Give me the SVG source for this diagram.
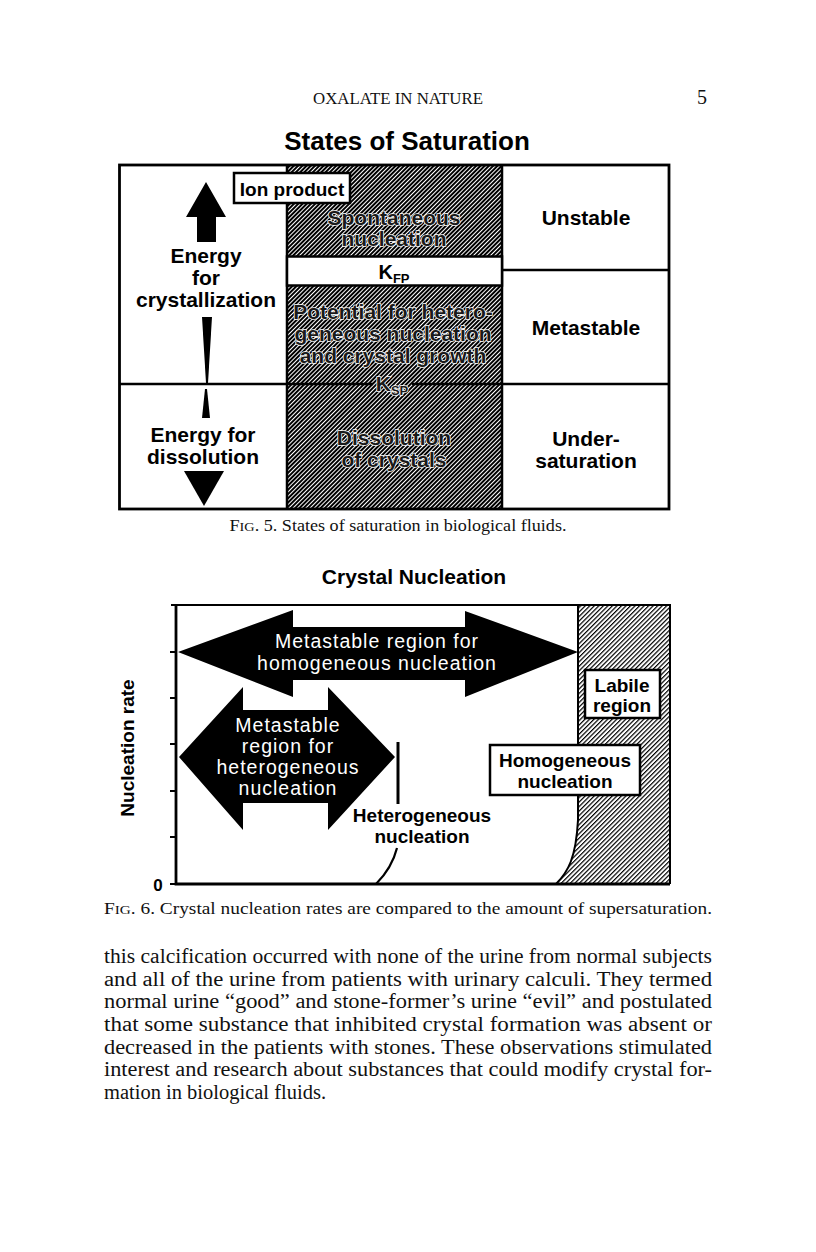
<svg xmlns="http://www.w3.org/2000/svg" width="816" height="1252" viewBox="0 0 816 1252">
<defs>
<pattern id="hatchDark" patternUnits="userSpaceOnUse" width="3" height="10" patternTransform="rotate(45)">
<rect width="3" height="10" fill="#fff"/>
<line x1="1" y1="0" x2="1" y2="10" stroke="#000" stroke-width="2"/>
</pattern>
<pattern id="hatchLight" patternUnits="userSpaceOnUse" width="3.2" height="10" patternTransform="rotate(45)">
<rect width="3.2" height="10" fill="#fff"/>
<line x1="0.6" y1="0" x2="0.6" y2="10" stroke="#000" stroke-width="1.2"/>
</pattern>
<style>
.serif{font-family:"Liberation Serif","DejaVu Serif",serif;fill:#111}
.b{font-family:"Liberation Sans",Arial,sans-serif;font-weight:bold;fill:#000}
.ht{font-family:"Liberation Sans",Arial,sans-serif;font-weight:bold;font-size:21px;fill:#1a1a1a;stroke:#fff;stroke-width:1.5px;paint-order:stroke fill;text-anchor:middle}
.w{font-family:"Liberation Sans",Arial,sans-serif;font-size:19.5px;fill:#fff;letter-spacing:1px;text-anchor:middle}
.ln{stroke:#000;stroke-width:2.5;fill:none}
.box{fill:#fff;stroke:#000;stroke-width:2.5}
.m{text-anchor:middle}
</style>
</defs>
<rect width="816" height="1252" fill="#fff"/>

<g id="header">
<text class="serif" x="398" y="104" font-size="16" text-anchor="middle" textLength="170" lengthAdjust="spacingAndGlyphs">OXALATE IN NATURE</text>
<text class="serif" x="702" y="104" font-size="20" text-anchor="middle">5</text>
</g>

<g id="fig5">
<text class="b m" x="407" y="150" font-size="26">States of Saturation</text>
<rect id="middle-column" x="287" y="165" width="215" height="344" fill="url(#hatchDark)"/>
<rect x="119.5" y="165" width="549.5" height="344" fill="none" stroke="#000" stroke-width="2.8"/>
<line class="ln" x1="287" y1="165" x2="287" y2="509"/>
<line class="ln" x1="502" y1="165" x2="502" y2="509"/>
<line class="ln" x1="502" y1="270" x2="669" y2="270"/>
<line class="ln" x1="119" y1="384" x2="287" y2="384"/>
<line class="ln" x1="502" y1="384" x2="669" y2="384"/>
<line class="ln" x1="287" y1="384" x2="373" y2="384"/>
<line class="ln" x1="412" y1="384" x2="502" y2="384"/>

<g id="ion-product">
<rect class="box" x="234" y="173" width="116" height="30"/>
<text class="b m" x="292" y="196" font-size="19">Ion product</text>
</g>

<g id="energy-crystallization">
<polygon points="206,182 226,217 216,217 216,242 197,242 197,217 186,217" fill="#000"/>
<text class="b m" x="206" y="263" font-size="21">Energy</text>
<text class="b m" x="206" y="285" font-size="21">for</text>
<text class="b m" x="206" y="307" font-size="21">crystallization</text>
<polygon points="202,317 212,317 208,383 206,383" fill="#000"/>
</g>

<g id="energy-dissolution">
<polygon points="205,389 207,389 210,418 202,418" fill="#000"/>
<text class="b m" x="203" y="442" font-size="21">Energy for</text>
<text class="b m" x="203" y="464" font-size="21">dissolution</text>
<polygon points="184,471 224,471 204,506" fill="#000"/>
</g>

<g id="spontaneous">
<text class="ht" x="394" y="225">Spontaneous</text>
<text class="ht" x="394" y="246">nucleation</text>
</g>
<g id="kfp">
<rect x="287" y="256.5" width="215" height="29" fill="#fff" stroke="#000" stroke-width="2.5"/>
<text class="b m" x="394" y="279" font-size="20">K<tspan font-size="13" dy="4">FP</tspan></text>
</g>
<g id="potential">
<text class="ht" x="393" y="319">Potential for hetero-</text>
<text class="ht" x="393" y="341">geneous nucleation</text>
<text class="ht" x="393" y="363">and crystal growth</text>
</g>
<g id="ksp">
<text class="ht" x="392" y="391" font-size="20">K<tspan font-size="13" dy="4">SP</tspan></text>
</g>
<g id="dissolution">
<text class="ht" x="394" y="445">Dissolution</text>
<text class="ht" x="394" y="467">of crystals</text>
</g>

<g id="unstable"><text class="b m" x="586" y="225" font-size="21">Unstable</text></g>
<g id="metastable"><text class="b m" x="586" y="335" font-size="21">Metastable</text></g>
<g id="undersaturation">
<text class="b m" x="586" y="446" font-size="21">Under-</text>
<text class="b m" x="586" y="468" font-size="21">saturation</text>
</g>
<text class="serif" x="398" y="531" font-size="16.5" text-anchor="middle" textLength="337" lengthAdjust="spacingAndGlyphs">F<tspan font-size="13">IG</tspan>. 5. States of saturation in biological fluids.</text>
</g>

<g id="fig6">
<text class="b m" x="414" y="584" font-size="21">Crystal Nucleation</text>

<g id="labile-area">
<path d="M556,884 C568,872 576,858 578,820 L578,605 L670,605 L670,884 Z" fill="url(#hatchLight)"/>
<path d="M556,884 C568,872 576,858 578,820 L578,605" fill="none" stroke="#000" stroke-width="2"/>
</g>

<g id="axes">
<path d="M171,605 H670 V884" fill="none" stroke="#000" stroke-width="2"/>
<path d="M176,605 V884 H670" fill="none" stroke="#000" stroke-width="2.8"/>
<path d="M170,652 H176 M170,698 H176 M170,744 H176 M170,791 H176 M170,837 H176 M170,884 H176" stroke="#000" stroke-width="2"/>
<text class="b" x="158" y="891" font-size="17" text-anchor="middle">0</text>
<text class="b" x="0" y="0" font-size="19" text-anchor="middle" transform="translate(134,748) rotate(-90)">Nucleation rate</text>
</g>

<g id="homogeneous-metastable">
<polygon points="178,652 293,610 293,627 465,627 465,611 578,652 465,697 465,680 293,680 293,697" fill="#000"/>
<text class="w" x="377" y="648">Metastable region for</text>
<text class="w" x="377" y="670">homogeneous nucleation</text>
</g>

<g id="heterogeneous-metastable">
<polygon points="179,757 243,687 243,710 328,710 328,687 395,757 328,830 328,803 243,803 243,830" fill="#000"/>
<text class="w" x="288" y="732">Metastable</text>
<text class="w" x="288" y="753">region for</text>
<text class="w" x="288" y="774">heterogeneous</text>
<text class="w" x="288" y="795">nucleation</text>
</g>

<g id="connectors">
<line x1="398" y1="742" x2="398" y2="804" stroke="#000" stroke-width="3"/>
<path d="M376,884 Q392,868 397,848" fill="none" stroke="#000" stroke-width="2.2"/>
</g>

<g id="heterogeneous-label">
<text class="b m" x="422" y="822" font-size="19">Heterogeneous</text>
<text class="b m" x="422" y="843" font-size="19">nucleation</text>
</g>

<g id="labile-region">
<rect class="box" x="585" y="670" width="75" height="48"/>
<text class="b m" x="622" y="692" font-size="19">Labile</text>
<text class="b m" x="622" y="712" font-size="19">region</text>
</g>

<g id="homogeneous-nucleation">
<rect class="box" x="490" y="745" width="150" height="50"/>
<text class="b m" x="565" y="767" font-size="19">Homogeneous</text>
<text class="b m" x="565" y="788" font-size="19">nucleation</text>
</g>

<text class="serif" x="104" y="914" font-size="16.5" textLength="608" lengthAdjust="spacingAndGlyphs">F<tspan font-size="13">IG</tspan>. 6. Crystal nucleation rates are compared to the amount of supersaturation.</text>
</g>

<g id="body-text" class="serif" font-size="20">
<text x="104" y="963" textLength="608" lengthAdjust="spacingAndGlyphs">this calcification occurred with none of the urine from normal subjects</text>
<text x="104" y="986" textLength="608" lengthAdjust="spacingAndGlyphs">and all of the urine from patients with urinary calculi. They termed</text>
<text x="104" y="1008" textLength="608" lengthAdjust="spacingAndGlyphs">normal urine “good” and stone-former’s urine “evil” and postulated</text>
<text x="104" y="1031" textLength="608" lengthAdjust="spacingAndGlyphs">that some substance that inhibited crystal formation was absent or</text>
<text x="104" y="1054" textLength="608" lengthAdjust="spacingAndGlyphs">decreased in the patients with stones. These observations stimulated</text>
<text x="104" y="1076" textLength="608" lengthAdjust="spacingAndGlyphs">interest and research about substances that could modify crystal for-</text>
<text x="104" y="1099" textLength="222" lengthAdjust="spacingAndGlyphs">mation in biological fluids.</text>
</g>
</svg>
